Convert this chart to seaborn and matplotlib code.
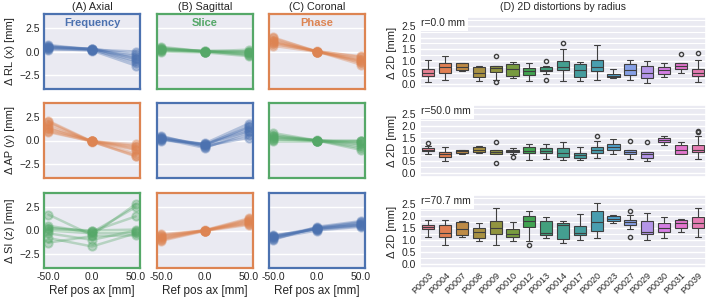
"""Reference-position distortions (left grid) and 2D distortions by radius (right)."""

import matplotlib
matplotlib.use("Agg")
import matplotlib.pyplot as plt
import numpy as np
import pandas as pd
import seaborn as sns

# ---- left grid: displacement per line at ref positions -50, 0, 50 mm ----
ref_pos = [-50.0, 0.0, 50.0]

# each panel: values at -50, 0, 50 (one entry per line)
rl_axial = [
  [0.6, 0.5, 0.4, 0.3, 0.5, 0.2, 0.7, 0.4],
  [0.2, 0.3, 0.2, 0.1, 0.3, 0.2, 0.2, 0.3],
  [-1.2, -0.8, -0.5, -1.5, -0.3, 0.0, -1.0, -0.7],
]
rl_sagittal = [
  [0.5, 0.3, 0.2, 0.0, 0.4, 0.1, 0.3, 0.2],
  [0.0, 0.0, 0.1, -0.1, 0.0, 0.0, 0.05, -0.05],
  [-0.3, -0.1, 0.0, -0.5, 0.2, -0.2, -0.4, 0.0],
]
rl_coronal = [
  [1.5, 1.2, 0.8, 0.6, 1.0, 1.4, 0.9, 1.1],
  [0.0, 0.0, 0.05, -0.05, 0.0, 0.0, 0.0, 0.0],
  [-1.2, -1.0, -0.6, -0.8, -1.4, -0.9, -0.5, -1.1],
]
ap_axial = [
  [2.1, 1.8, 1.2, 0.9, 1.5, 2.0, 1.0, 1.3],
  [-0.1, -0.1, -0.05, -0.1, -0.1, -0.15, -0.1, -0.05],
  [-1.7, -1.4, -0.6, -0.4, -1.0, -1.6, -0.7, -0.9],
]
ap_sagittal = [
  [0.3, 0.1, 0.5, 0.0, 0.2, 0.4, 0.2, 0.3],
  [-0.5, -0.4, -0.7, -0.3, -0.6, -0.5, -0.8, -0.4],
  [1.5, 1.0, 0.6, 1.8, 0.3, 1.2, 0.9, 1.4],
]
ap_coronal = [
  [0.8, 0.5, 0.3, 0.0, 0.2, 0.6, 0.1, 0.4],
  [0.0, 0.0, 0.05, 0.0, -0.05, 0.0, 0.0, 0.0],
  [-1.0, -0.6, -0.3, 0.0, -0.1, -0.8, 0.0, -0.4],
]
si_axial = [
  [1.7, 0.3, 0.0, -0.3, -0.8, -1.3, 0.2, 0.5],
  [-0.5, -0.1, -0.3, -1.0, -1.7, -0.6, 0.0, -0.2],
  [2.8, 1.5, -0.2, 0.0, -0.3, -0.5, 0.1, 2.5],
]
si_sagittal = [
  [-0.5, -0.8, -1.1, -0.6, -0.9, -0.4, -0.7, -1.0],
  [0.0, 0.0, -0.05, 0.05, 0.0, 0.0, 0.0, 0.0],
  [0.9, 1.1, 0.6, 1.3, 0.7, 1.0, 0.8, 1.2],
]
si_coronal = [
  [-0.6, -0.9, -0.5, -1.0, -0.7, -0.8, -0.6, -0.7],
  [0.2, 0.3, 0.1, 0.4, 0.2, 0.0, 0.3, 0.2],
  [0.6, 0.8, 0.5, 1.0, 0.7, 0.4, 0.9, 0.6],
]

left_panels = [
  [rl_axial, rl_sagittal, rl_coronal],
  [ap_axial, ap_sagittal, ap_coronal],
  [si_axial, si_sagittal, si_coronal],
]
col_titles = ["(A) Axial", "(B) Sagittal", "(C) Coronal"]
row_labels = ["\u0394 RL (x) [mm]", "\u0394 AP (y) [mm]", "\u0394 SI (z) [mm]"]
direction_names = ["Frequency", "Slice", "Phase"]

BLUE, ORANGE, GREEN = "#4C72B0", "#DD8452", "#55A868"
panel_colors = [
  [BLUE, GREEN, ORANGE],
  [ORANGE, BLUE, GREEN],
  [GREEN, ORANGE, BLUE],
]

# ---- right: 2D distortion boxes, (lo whisker, q1, median, q3, hi whisker) ----
patients = ["P0003", "P0004", "P0007", "P0008", "P0009", "P0010", "P0012", "P0013",
            "P0014", "P0017", "P0020", "P0023", "P0027", "P0029", "P0030", "P0031", "P0039"]
radii = ["r=0.0 mm", "r=50.0 mm", "r=70.7 mm"]

box_r0 = [
  (0.1, 0.35, 0.5, 0.65, 1.05), (0.2, 0.5, 0.75, 0.9, 1.2), (0.55, 0.6, 0.75, 0.92, 0.92),
  (0.15, 0.3, 0.5, 0.75, 0.8), (0.18, 0.53, 0.68, 0.8, 1.23), (0.25, 0.35, 0.65, 0.85, 0.95),
  (0.15, 0.4, 0.55, 0.7, 0.9), (0.45, 0.55, 0.62, 0.72, 0.78), (0.15, 0.6, 0.75, 1.0, 1.5),
  (0.15, 0.3, 0.6, 0.85, 0.95), (0.2, 0.55, 0.75, 1.05, 1.7), (0.25, 0.3, 0.35, 0.45, 0.65),
  (0.2, 0.4, 0.6, 0.85, 1.05), (0.05, 0.25, 0.5, 0.8, 1.0), (0.3, 0.45, 0.6, 0.75, 0.9),
  (0.5, 0.65, 0.8, 0.9, 1.3), (0.1, 0.35, 0.5, 0.65, 1.05),
]
out_r0 = {"P0009": [0.08], "P0013": [0.2, 1.0], "P0014": [1.75], "P0039": [1.35]}

box_r50 = [
  (0.8, 0.92, 0.98, 1.05, 1.15), (0.5, 0.7, 0.8, 0.9, 1.1), (0.8, 0.85, 0.92, 0.98, 1.0),
  (0.85, 0.9, 1.0, 1.1, 1.15), (0.45, 0.8, 0.9, 1.0, 1.3), (0.8, 0.88, 0.93, 1.0, 1.05),
  (0.55, 0.85, 0.95, 1.1, 1.25), (0.6, 0.85, 0.95, 1.05, 1.25), (0.55, 0.7, 0.85, 1.05, 1.3),
  (0.55, 0.65, 0.75, 0.85, 1.1), (0.65, 0.85, 1.0, 1.1, 1.35), (0.8, 1.0, 1.1, 1.25, 1.45),
  (0.6, 0.8, 0.9, 1.0, 1.35), (0.5, 0.65, 0.8, 0.9, 1.3), (1.2, 1.3, 1.4, 1.5, 1.55),
  (0.8, 0.8, 1.0, 1.2, 1.3), (0.6, 0.88, 1.0, 1.2, 1.55),
]
out_r50 = {"P0003": [1.28], "P0010": [0.68], "P0020": [1.55], "P0039": [1.72, 1.8]}

box_r70 = [
  (1.15, 1.45, 1.55, 1.65, 1.85), (0.8, 1.15, 1.3, 1.65, 1.85), (1.15, 1.2, 1.45, 1.75, 1.8),
  (0.95, 1.1, 1.35, 1.5, 1.7), (0.8, 1.25, 1.5, 1.8, 2.35), (0.95, 1.15, 1.25, 1.45, 1.75),
  (0.95, 1.55, 1.8, 2.0, 2.2), (1.1, 1.2, 1.3, 1.8, 1.95), (0.9, 1.05, 1.65, 1.7, 1.8),
  (1.0, 1.2, 1.3, 1.6, 2.1), (1.1, 1.4, 1.75, 2.2, 2.55), (1.7, 1.8, 1.9, 2.0, 2.05),
  (1.45, 1.65, 1.75, 1.85, 2.05), (1.0, 1.25, 1.35, 1.8, 2.15), (1.1, 1.35, 1.5, 1.7, 1.95),
  (1.35, 1.5, 1.7, 1.85, 1.9), (1.15, 1.5, 1.7, 1.95, 2.35),
]
out_r70 = {"P0012": [0.78], "P0027": [1.15, 2.2]}

box_stats = [box_r0, box_r50, box_r70]
box_outliers = [out_r0, out_r50, out_r70]


def sample_from_stats(stats, outliers):
  """Sample whose linear quartiles equal the given box stats exactly."""
  lo, q1, med, q3, hi = stats
  ol = [v for v in outliers if v < q1]
  oh = [v for v in outliers if v > q3]
  k = 1 + max(len(ol), len(oh))
  return (ol + [lo] + [q1] * (k - 1 - len(ol)) + [q1] + [med] * (k - 1) + [med]
          + [q3] * (k - 1) + [q3] + [q3] * (k - 1 - len(oh)) + [hi] + oh)


sns.set_theme(style="darkgrid")
plt.rcParams["font.family"] = ["Liberation Sans", "DejaVu Sans"]

W, H = 709, 303
fig = plt.figure(figsize=(W / 100, H / 100), dpi=100)


def px_axes(x0, y0, x1, y1):
  return fig.add_axes([x0 / W, 1 - y1 / H, (x1 - x0) / W, (y1 - y0) / H])


col_x = [44, 157, 269]
row_y = [14, 103, 193]

for r in range(3):
  for c in range(3):
    ax = px_axes(col_x[c], row_y[r], col_x[c] + 96, row_y[r] + 75)
    vals = left_panels[r][c]
    color = panel_colors[r][c]
    n_lines = len(vals[0])
    rows = []
    for i, pos in enumerate(ref_pos):
      for j in range(n_lines):
        rows.append({"pos": pos, "delta": vals[i][j], "line": f"L{j}"})
    df = pd.DataFrame(rows)
    sns.pointplot(data=df, x="pos", y="delta", hue="line", palette=[color] * n_lines,
                  errorbar=None, legend=False, ax=ax, alpha=0.35,
                  markersize=6, linewidth=1.8)
    ax.set_xlim(-0.1, 2.1)
    ax.set_ylim(-4, 4)
    ax.set_yticks([-2.5, 0, 2.5])
    ax.tick_params(labelsize=7.5, length=0, pad=3)
    for spine in ax.spines.values():
      spine.set_visible(True)
      spine.set_color(color)
      spine.set_linewidth(1.6)
    ax.set_xlabel("Ref pos ax [mm]" if r == 2 else "", fontsize=8.5, labelpad=2)
    if r < 2:
      ax.set_xticklabels([])
    if c == 0:
      ax.set_ylabel(row_labels[r], fontsize=8, labelpad=3)
    else:
      ax.set_ylabel("")
      ax.set_yticklabels([])
    if r == 0:
      ax.set_title(col_titles[c], fontsize=7.8, pad=3)
      ax.text(0.5, 0.88, direction_names[c], transform=ax.transAxes, ha="center",
              va="center", color=color, fontsize=8, fontweight="bold")

right_y = [(17, 88), (105, 177), (195, 268)]
for k, (y0, y1) in enumerate(right_y):
  ax = px_axes(420, y0, 706, y1)
  rows = []
  for p, stats in zip(patients, box_stats[k]):
    for v in sample_from_stats(stats, box_outliers[k].get(p, [])):
      rows.append({"patient": p, "d2d": v})
  df = pd.DataFrame(rows)
  sns.boxplot(data=df, x="patient", y="d2d", hue="patient", legend=False, ax=ax,
              width=0.72, linewidth=0.8,
              flierprops=dict(marker="o", markersize=3, markerfacecolor="none"))
  ax.set_ylim(-0.16, 2.88)
  ax.set_yticks(np.arange(0, 2.51, 0.5))
  ax.set_yticks(np.arange(0.25, 2.8, 0.5), minor=True)
  ax.grid(which="minor", axis="y", color="white", linewidth=0.8)
  ax.tick_params(labelsize=7.5, length=0, pad=3)
  ax.tick_params(which="minor", length=0)
  ax.set_ylabel("\u0394 2D [mm]", fontsize=8, labelpad=3)
  ax.set_xlabel("")
  ax.text(0.005, 0.98, radii[k], transform=ax.transAxes, ha="left", va="top", fontsize=7.5,
          bbox=dict(facecolor="white", edgecolor="none", pad=2))
  if k == 0:
    ax.set_title("(D) 2D distortions by radius", fontsize=7.5, pad=5)
  if k < 2:
    ax.set_xticklabels([])
  else:
    ax.tick_params(axis="x", labelsize=6.5, pad=2)
    plt.setp(ax.get_xticklabels(), rotation=45, ha="right", rotation_mode="anchor")

fig.savefig("out.png", dpi=100)
